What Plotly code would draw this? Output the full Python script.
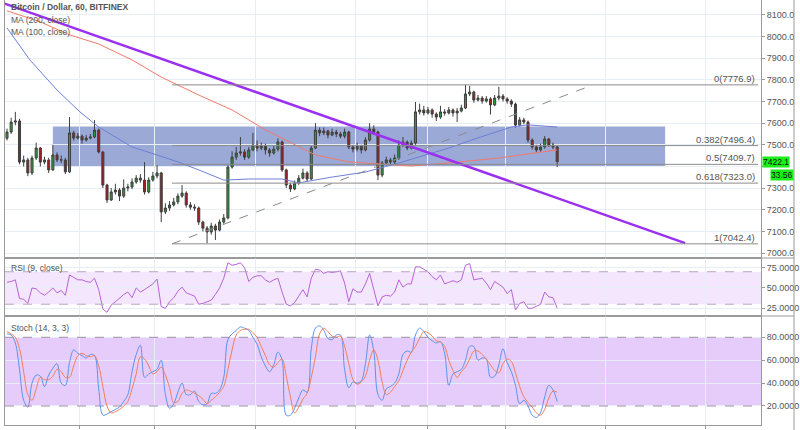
import plotly.graph_objects as go

# ---------------- data ----------------
closes = [7559, 7605, 7610, 7420, 7430, 7370, 7439, 7485, 7420, 7430,
          7384, 7453, 7430, 7430, 7375, 7555, 7531, 7540, 7522, 7531,
          7536, 7568, 7467, 7314, 7245, 7282, 7291, 7263, 7300, 7305,
          7328, 7346, 7337, 7282, 7337, 7356, 7370, 7190, 7208, 7222,
          7236, 7263, 7277, 7222, 7212, 7208, 7143, 7115, 7097, 7125,
          7106, 7143, 7162, 7397, 7443, 7462, 7467, 7443, 7476, 7499,
          7485, 7494, 7476, 7462, 7480, 7513, 7384, 7314, 7296, 7323,
          7346, 7370, 7342, 7485, 7568, 7555, 7564, 7545, 7559, 7550,
          7540, 7559, 7490, 7480, 7494, 7476, 7522, 7573, 7559, 7360,
          7416, 7430, 7420, 7439, 7499, 7513, 7485, 7508, 7652, 7661,
          7647, 7661, 7642, 7628, 7652, 7647, 7661, 7647, 7656, 7670,
          7735, 7744, 7707, 7716, 7702, 7712, 7684, 7716, 7725, 7712,
          7702, 7688, 7591, 7615, 7605, 7522, 7490, 7476, 7490, 7527,
          7499, 7490, 7422]
highs = [7575, 7625, 7652, 7620, 7450, 7440, 7450, 7510, 7490, 7445,
         7440, 7500, 7465, 7450, 7440, 7628, 7565, 7555, 7548, 7545,
         7550, 7614, 7575, 7470, 7320, 7300, 7320, 7300, 7340, 7320,
         7345, 7360, 7365, 7420, 7350, 7375, 7406, 7375, 7230, 7240,
         7255, 7275, 7314, 7285, 7235, 7225, 7215, 7150, 7125, 7140,
         7135, 7155, 7180, 7405, 7470, 7490, 7536, 7480, 7490, 7555,
         7520, 7510, 7505, 7485, 7495, 7530, 7520, 7390, 7325, 7335,
         7360, 7390, 7378, 7495, 7600, 7580, 7580, 7570, 7575, 7570,
         7560, 7575, 7565, 7500, 7510, 7500, 7535, 7600, 7590, 7565,
         7425, 7445, 7440, 7455, 7520, 7536, 7520, 7520, 7698, 7690,
         7680, 7675, 7668, 7650, 7680, 7665, 7675, 7668, 7670, 7685,
         7777, 7772, 7750, 7730, 7725, 7725, 7720, 7730, 7768, 7735,
         7720, 7710, 7695, 7628, 7625, 7612, 7530, 7500, 7505, 7540,
         7532, 7510, 7495]
lows = [7520, 7550, 7590, 7410, 7400, 7355, 7360, 7430, 7400, 7410,
        7370, 7380, 7420, 7415, 7365, 7370, 7520, 7525, 7505, 7515,
        7525, 7530, 7460, 7300, 7231, 7240, 7270, 7240, 7255, 7285,
        7295, 7320, 7325, 7270, 7275, 7330, 7345, 7143, 7180, 7195,
        7215, 7225, 7255, 7210, 7200, 7195, 7130, 7100, 7045, 7085,
        7060, 7100, 7135, 7155, 7390, 7430, 7450, 7430, 7435, 7470,
        7470, 7475, 7455, 7445, 7455, 7470, 7375, 7300, 7282, 7290,
        7315, 7340, 7330, 7338, 7480, 7540, 7545, 7530, 7540, 7535,
        7530, 7530, 7480, 7465, 7470, 7460, 7470, 7515, 7545, 7337,
        7350, 7405, 7405, 7410, 7430, 7490, 7475, 7478, 7500, 7640,
        7635, 7640, 7625, 7610, 7620, 7635, 7640, 7630, 7605, 7650,
        7665, 7725, 7695, 7700, 7690, 7695, 7640, 7678, 7705, 7700,
        7690, 7675, 7580, 7585, 7595, 7510, 7478, 7465, 7468, 7482,
        7490, 7480, 7397]
first_open = 7530
opens = [first_open] + closes[:-1]
bars = list(range(len(closes)))

ma200_x = [0, 8, 15, 22, 30, 37, 46, 54, 62, 70, 74, 82, 89, 97, 106, 118, 125, 132]
ma200_y = [8119, 8068, 8008, 7966, 7892, 7813, 7730, 7661, 7569, 7490, 7453,
           7421, 7411, 7402, 7416, 7439, 7458, 7476]
ma100_x = [0, 2, 5.5, 12, 17.5, 22, 30, 36, 41, 46, 52, 58, 66, 70, 78, 86, 94,
           106, 113, 121, 125, 132]
ma100_y = [8040, 7984, 7892, 7753, 7652, 7582, 7490, 7453, 7421, 7384, 7337,
           7342, 7342, 7324, 7351, 7374, 7416, 7485, 7532, 7582, 7592, 7582]

rsi = [57, 58, 60, 37, 36, 31, 50, 49, 44, 41, 45, 50, 44, 47, 41, 66, 63, 60, 60, 58,
       57, 62, 48, 24, 20, 29, 33, 38, 42, 45, 38, 50, 45, 48, 52, 55, 61, 27, 25, 33,
       38, 46, 51, 44, 42, 40, 30, 31, 33, 35, 42, 50, 62, 81, 78, 79, 81, 75, 58, 63,
       65, 65, 60, 57, 60, 62, 45, 30, 28, 32, 40, 48, 39, 62, 73, 72, 68, 70, 69, 70,
       71, 56, 33, 49, 45, 45, 55, 68, 48, 28, 39, 41, 40, 45, 60, 51, 55, 55, 76, 76,
       73, 70, 64, 60, 66, 55, 57, 59, 57, 60, 78, 80, 60, 61, 62, 56, 48, 58, 54, 51,
       43, 48, 23, 31, 33, 25, 25, 28, 30, 45, 39, 38, 25]
stoch_k = [83, 82, 75, 52, 25, 19, 40, 47, 46, 37, 47, 53, 57, 40, 38, 58, 69, 66, 64, 62,
           65, 64, 35, 12, 13, 15, 17, 19, 24, 30, 50, 65, 73, 45, 48, 50, 52, 60, 30, 18,
           22, 32, 40, 30, 30, 33, 24, 21, 22, 31, 31, 34, 45, 78, 83, 86, 89, 88, 86, 80,
           74, 63, 55, 50, 56, 67, 60, 12, 12, 18, 27, 34, 32, 70, 88, 90, 86, 79, 78, 82,
           82, 52, 36, 41, 40, 42, 57, 82, 68, 30, 25, 35, 37, 40, 48, 65, 68, 67, 82, 88,
           85, 80, 77, 75, 76, 66, 38, 48, 50, 52, 60, 72, 72, 60, 62, 61, 45, 46, 56, 70,
           58, 50, 38, 22, 25, 20, 12, 10, 14, 28, 38, 34, 24]
stoch_d = [85, 83, 80, 70, 50, 30, 25, 35, 45, 43, 43, 46, 52, 50, 45, 45, 55, 64, 66, 64,
           63, 64, 55, 37, 20, 14, 15, 17, 20, 24, 35, 48, 63, 61, 55, 48, 50, 54, 47, 36,
           23, 24, 31, 34, 33, 31, 29, 26, 22, 25, 28, 32, 37, 52, 69, 82, 86, 87, 87, 84,
           80, 72, 64, 56, 54, 58, 61, 46, 28, 14, 19, 26, 31, 45, 63, 83, 88, 85, 81, 80,
           81, 72, 57, 43, 39, 41, 46, 60, 69, 60, 41, 30, 32, 37, 42, 51, 60, 67, 72, 79,
           85, 84, 81, 77, 76, 72, 60, 51, 45, 50, 54, 61, 68, 68, 65, 61, 56, 51, 49, 57,
           61, 59, 49, 37, 28, 23, 19, 14, 12, 17, 27, 33, 32]

price_ticks = [7000, 7100, 7200, 7300, 7400, 7500, 7600, 7700, 7800, 7900, 8000, 8100]
# 7400.0 label is hidden behind the last-price tag in the picture
price_tick_text = ["7000.0", "7100.0", "7200.0", "7300.0", "", "7500.0", "7600.0",
                   "7700.0", "7800.0", "7900.0", "8000.0", "8100.0"]
fib_ratios = ["0", "0.382", "0.5", "0.618", "1"]
fib_levels = [7776.9, 7496.4, 7409.7, 7323.0, 7042.4]
fib_span = [39.6, 180.2]
fib_label_x = 179.6
zone_x = [11.0, 157.9]
zone_y = [7402, 7584]
trend_x = [-1.7, 162.7]
trend_y = [8160, 7046]
swing_x = [39.6, 140.6]
swing_y = [7042.4, 7776.9]
time_ticks = [17.5, 35.5, 59.5, 83.5, 101, 119.5, 143.5, 167.5]
last_price = 7422.1
side_value = "33.56"
side_value_price = 7360

# ---------------- figure ----------------
GRID = "#e8eef6"
AX = "#9a9a9a"
TXT = "#555555"
FONT = "Liberation Sans"

fig = go.Figure()

fig.add_trace(go.Candlestick(
    x=bars, open=opens, high=highs, low=lows, close=closes,
    xaxis="x", yaxis="y",
    increasing=dict(fillcolor="#2f9e3a", line=dict(color="#3f3f3f", width=1)),
    decreasing=dict(fillcolor="#a51d1d", line=dict(color="#3f3f3f", width=1)),
    whiskerwidth=0, hoverinfo="skip"))

fig.add_trace(go.Scatter(x=ma200_x, y=ma200_y, mode="lines", xaxis="x", yaxis="y",
                         line=dict(color="#f07a6a", width=1), hoverinfo="skip"))
fig.add_trace(go.Scatter(x=ma100_x, y=ma100_y, mode="lines", xaxis="x", yaxis="y",
                         line=dict(color="#6f7fd6", width=1), hoverinfo="skip"))
fig.add_trace(go.Scatter(x=trend_x, y=trend_y, mode="lines", xaxis="x", yaxis="y",
                         line=dict(color="#9b30f0", width=2.5), hoverinfo="skip"))
fig.add_trace(go.Scatter(x=swing_x, y=swing_y, mode="lines", xaxis="x", yaxis="y",
                         line=dict(color="#8a8a8a", width=1, dash="dash"), hoverinfo="skip"))

fig.add_trace(go.Scatter(x=bars, y=rsi, mode="lines", xaxis="x2", yaxis="y2",
                         line=dict(color="#b764d6", width=1), hoverinfo="skip"))
fig.add_trace(go.Scatter(x=bars, y=stoch_k, mode="lines", xaxis="x3", yaxis="y3",
                         line=dict(color="#5a93ea", width=1), line_shape="spline",
                         hoverinfo="skip"))
fig.add_trace(go.Scatter(x=bars, y=stoch_d, mode="lines", xaxis="x3", yaxis="y3",
                         line=dict(color="#f0805c", width=1), line_shape="spline",
                         hoverinfo="skip"))

shapes = []
# consolidation zone
shapes.append(dict(type="rect", xref="x", yref="y", x0=zone_x[0], x1=zone_x[1],
                   y0=zone_y[0], y1=zone_y[1], fillcolor="rgba(45,75,170,0.48)",
                   line=dict(width=0), layer="below"))
# fib levels
for lv in fib_levels:
    shapes.append(dict(type="line", xref="x", yref="y", x0=fib_span[0], x1=fib_span[1],
                       y0=lv, y1=lv, line=dict(color="#8c8c8c", width=1)))
# RSI band
shapes.append(dict(type="rect", xref="x2 domain", yref="y2", x0=0, x1=1, y0=30, y1=70,
                   fillcolor="rgba(190,120,245,0.185)", line=dict(width=0), layer="below"))
for lv in (30, 70):
    shapes.append(dict(type="line", xref="x2 domain", yref="y2", x0=0, x1=1, y0=lv, y1=lv,
                       line=dict(color="#bba5c6", width=1, dash="dash")))
# Stoch band
shapes.append(dict(type="rect", xref="x3 domain", yref="y3", x0=0, x1=1, y0=20, y1=80,
                   fillcolor="rgba(190,120,245,0.38)", line=dict(width=0), layer="below"))
for lv in (20, 80):
    shapes.append(dict(type="line", xref="x3 domain", yref="y3", x0=0, x1=1, y0=lv, y1=lv,
                       line=dict(color="#9c8ca6", width=1, dash="dash")))
# outer frame bits
RB = (794 - 5) / 756
for yy in ((425 - 258) / 425, (425 - 316) / 425):
    shapes.append(dict(type="line", xref="paper", yref="paper", x0=0, x1=RB, y0=yy, y1=yy,
                       line=dict(color=AX, width=1)))
shapes.append(dict(type="line", xref="paper", yref="paper", x0=RB, x1=RB, y0=-0.02, y1=1,
                   line=dict(color=AX, width=1)))

annotations = []
for name, lv in zip(fib_ratios, fib_levels):
    annotations.append(dict(x=fib_label_x, y=lv, xref="x", yref="y", text=f"{name}({lv:.1f})",
                            showarrow=False, xanchor="right", yanchor="bottom",
                            font=dict(size=9.5, color=TXT, family=FONT), borderpad=0))


def ptext(txt, px, py, size=8.5, bold=False):
    return dict(x=(px - 5) / 756, y=(425 - py) / 425, xref="paper", yref="paper",
                text=f"<b>{txt}</b>" if bold else txt, showarrow=False,
                xanchor="left", yanchor="middle", font=dict(size=size, color=TXT, family=FONT))


annotations += [
    ptext("Bitcoin / Dollar, 60, BITFINEX", 9, 7, 8.5, True),
    ptext("MA (200, close)", 9, 20),
    ptext("MA (100, close)", 9, 32),
    ptext("RSI (9, close)", 9, 268),
    ptext("Stoch (14, 3, 3)", 9, 328),
]
annotations.append(dict(x=(762 - 5) / 756, y=last_price, xref="paper", yref="y",
                        text=f"{last_price:.1f}", showarrow=False, xanchor="left",
                        yanchor="middle", bgcolor="#19f019", borderpad=0,
                        font=dict(size=8.5, color="#111", family=FONT)))
annotations.append(dict(x=(770 - 5) / 756, y=side_value_price, xref="paper", yref="y",
                        text=side_value, showarrow=False, xanchor="left",
                        yanchor="middle", bgcolor="#19f019", borderpad=0,
                        font=dict(size=8.5, color="#111", family=FONT)))

xcommon = dict(range=[-0.48, 180.9], tickvals=time_ticks, showticklabels=False,
               showgrid=True, gridcolor=GRID, zeroline=False, showline=True,
               mirror=True, linecolor=AX, linewidth=1, fixedrange=True)
ycommon = dict(side="right", showgrid=True, gridcolor=GRID, zeroline=False,
               showline=True, mirror=True, linecolor=AX, linewidth=1, ticks="outside",
               ticklen=3, tickcolor=AX, tickfont=dict(size=9, color=TXT, family=FONT))

fig.update_layout(
    width=800, height=430,
    margin=dict(l=5, r=39, t=0, b=5),
    paper_bgcolor="white", plot_bgcolor="white",
    showlegend=False,
    font=dict(family=FONT, size=9, color=TXT),
    xaxis=dict(**xcommon, anchor="y", rangeslider=dict(visible=False)),
    xaxis2=dict(**xcommon, anchor="y2", matches="x"),
    xaxis3=dict(**xcommon, anchor="y3", matches="x", ticks="outside", ticklen=3,
                tickcolor=AX),
    yaxis=dict(**ycommon, domain=[(425 - 258) / 425, 1], range=[6977, 8169],
               tickvals=price_ticks, ticktext=price_tick_text),
    yaxis2=dict(**ycommon, domain=[(425 - 316) / 425, (425 - 258) / 425],
                range=[15.5, 86.9], tickvals=[25, 50, 75], tickformat=".4f"),
    yaxis3=dict(**ycommon, domain=[0, (425 - 316) / 425], range=[3.4, 98.6],
                tickvals=[20, 40, 60, 80], tickformat=".4f"),
    shapes=shapes,
    annotations=annotations,
)

fig.write_html("out.html")
